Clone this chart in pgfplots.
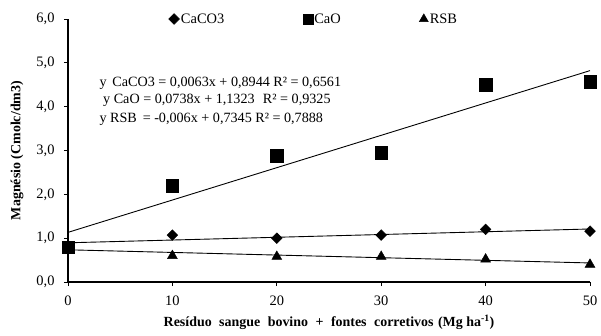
\documentclass[border=0pt]{standalone}
\usepackage{fontspec}
\setmainfont{Liberation Serif}
\usepackage{pgfplots}
\pgfplotsset{compat=1.18}
\begin{document}
\begin{tikzpicture}
\begin{axis}[
  scale only axis,
  width=522bp, height=263bp,
  xmin=0, xmax=50, ymin=0, ymax=6,
  xtick={0,10,20,30,40,50},
  ytick={0,1,2,3,4,5,6},
  axis lines*=left,
  axis line style={line width=1.6pt},
  tick style={line width=1pt, black},
  tick align=outside,
  major tick length=4bp,
  yticklabel style={/pgf/number format/fixed, /pgf/number format/fixed zerofill, /pgf/number format/precision=1, /pgf/number format/use comma, /pgf/number format/assume math mode=true, anchor=east, xshift=-6bp},
  xticklabel style={/pgf/number format/assume math mode=true, anchor=center, yshift=-15bp},
  ticklabel style={font=\fontsize{14.5}{16}\selectfont},
  xlabel={\fontsize{14}{16}\selectfont\bfseries Resíduo\hspace{4bp} sangue\hspace{4bp} bovino\hspace{4bp} +\hspace{4bp} fontes\hspace{4bp} corretivos\hspace{1bp} (Mg ha\textsuperscript{-1})},
  ylabel={\fontsize{14}{16}\selectfont\bfseries Magnésio (Cmolc/dm3)},
  every axis x label/.style={at={(rel axis cs:0.5,0)}, anchor=center, yshift=-40bp, font=\fontsize{14}{16}\selectfont\bfseries},
  every axis y label/.style={at={(rel axis cs:0,0.5)}, rotate=90, anchor=center, yshift=51bp, font=\fontsize{14}{16}\selectfont\bfseries},
  clip=false,
  legend columns=3,
  legend style={draw=none, fill=none, inner sep=0pt, outer sep=0pt,
    at={(axis cs:9.65,6)}, anchor=west,
    font=\fontsize{14.5}{16}\selectfont,
    nodes={inner xsep=1.5bp},
    /tikz/every odd column/.append style={column sep=0bp},
    /tikz/every even column/.append style={column sep=77bp}},
  legend image code/.code={\draw[#1] plot coordinates {(0bp,0bp)};},
]
\coordinate (ll) at (rel axis cs:0,0);
\coordinate (ur) at (rel axis cs:1,1);
\addplot[only marks, mark=square*, mark size=3.8bp, mark options={rotate=45}, black] coordinates {
  (0,0.80) (10,1.07) (20,1.00) (30,1.07) (40,1.20) (50,1.16)};
\addlegendentry{CaCO3}
\addplot[only marks, mark=square*, mark size=6.2bp, black, legend image post style={mark size=5bp}] coordinates {
  (0,0.80) (10,2.20) (20,2.88) (30,2.95) (40,4.50) (50,4.57)};
\addlegendentry{CaO}
\addplot[only marks, mark=triangle*, mark size=5.7bp, black, legend image post style={mark size=5.2bp}] coordinates {
  (0,0.76) (10,0.60) (20,0.58) (30,0.58) (40,0.52) (50,0.40)};
\addlegendentry{RSB}
\addplot[forget plot, black, line width=0.9pt] coordinates {(0,0.8944) (50,1.2094)};
\addplot[forget plot, black, line width=0.9pt] coordinates {(0,1.1323) (50,4.8223)};
\addplot[forget plot, black, line width=0.9pt] coordinates {(0,0.7345) (50,0.4345)};
\node[anchor=west, font=\fontsize{14.2}{16}\selectfont, inner sep=0pt] at (axis cs:3.0,4.54) {y\, CaCO3 = 0,0063x + 0,8944 R² = 0,6561};
\node[anchor=west, font=\fontsize{14.2}{16}\selectfont, inner sep=0pt] at (axis cs:3.35,4.15) {y CaO = 0,0738x + 1,1323\,\, R² = 0,9325};
\node[anchor=west, font=\fontsize{14.2}{16}\selectfont, inner sep=0pt] at (axis cs:3.0,3.72) {y RSB\, = -0,006x + 0,7345 R² = 0,7888};
\end{axis}
\pgfresetboundingbox
\path[use as bounding box] ([shift={(-68bp,-54bp)}]ll) rectangle ([shift={(11bp,19bp)}]ur);
\end{tikzpicture}
\end{document}
